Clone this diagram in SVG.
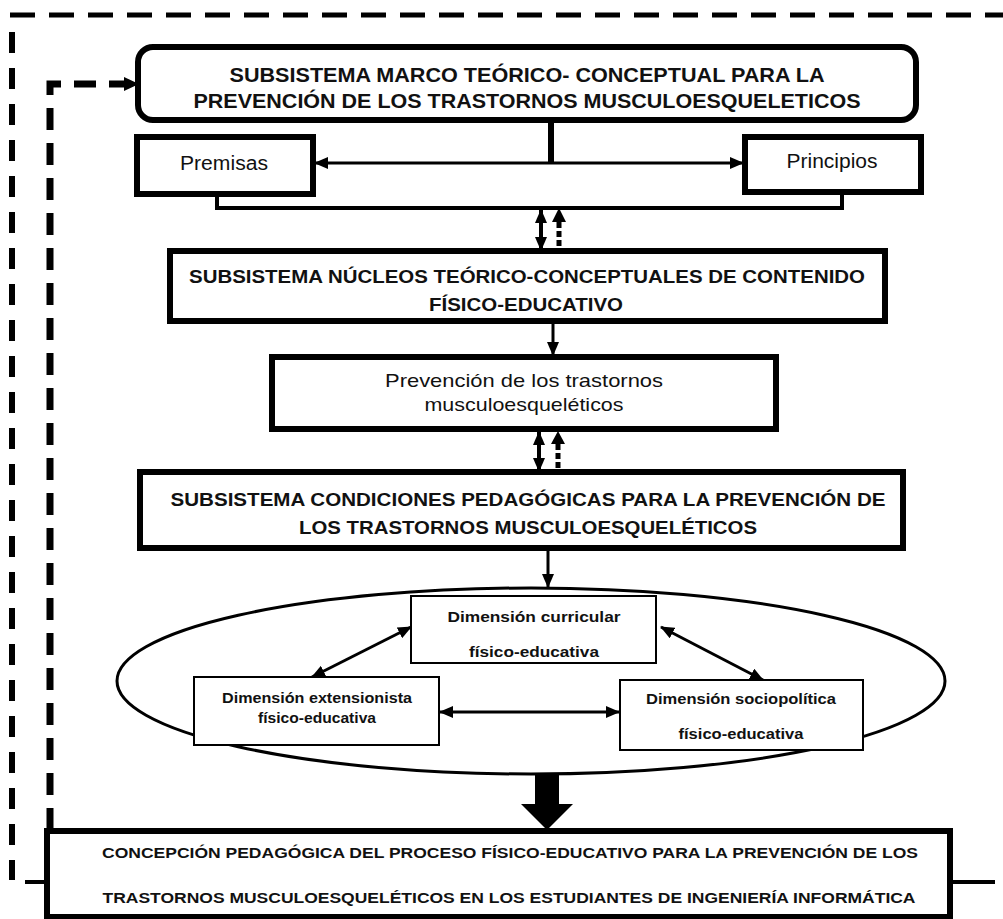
<svg xmlns="http://www.w3.org/2000/svg" width="1003" height="919" viewBox="0 0 1003 919">
<style>
.box{fill:#fff;stroke:#000;stroke-width:6}
.thin{fill:#fff;stroke:#000;stroke-width:2}
.t{font-family:"Liberation Sans",Arial,sans-serif;fill:#111;text-anchor:middle}
.b{font-weight:bold}
.ln{stroke:#000;fill:none}
</style>
<defs>
<marker id="ah" markerUnits="userSpaceOnUse" markerWidth="14" markerHeight="12" refX="13" refY="6" orient="auto-start-reverse"><path d="M0,0 L14,6 L0,12 z" fill="#000"/></marker>
</defs>
<rect width="1003" height="919" fill="#fff"/>
<g id="connectors">
<line class="ln" x1="10" y1="15" x2="1003" y2="15" stroke-width="5" stroke-dasharray="25 14"/>
<line class="ln" x1="12" y1="32" x2="12" y2="880" stroke-width="6" stroke-dasharray="21 15"/>
<line class="ln" x1="25" y1="882" x2="47" y2="882" stroke-width="4"/>
<line class="ln" x1="950" y1="882" x2="995" y2="882" stroke-width="4"/>
<path class="ln" d="M50,830 V84 H125" stroke-width="7" stroke-dasharray="22 13"/>
<polygon points="124,77 139,84 124,91" fill="#000"/>
<line class="ln" x1="551" y1="120" x2="551" y2="163" stroke-width="6"/>
<line class="ln" x1="315" y1="163" x2="743" y2="163" stroke-width="3" marker-start="url(#ah)" marker-end="url(#ah)"/>
<path class="ln" d="M217,195 V208 H842 V193" stroke-width="4"/>
<line class="ln" x1="541" y1="210" x2="541" y2="250" stroke-width="4" marker-start="url(#ah)" marker-end="url(#ah)"/>
<polygon points="552,222 559,208 566,222" fill="#000"/>
<line class="ln" x1="559" y1="222" x2="559" y2="250" stroke-width="5" stroke-dasharray="6 3"/>
<line class="ln" x1="553" y1="322" x2="553" y2="355" stroke-width="3" marker-end="url(#ah)"/>
<line class="ln" x1="539" y1="432" x2="539" y2="471" stroke-width="4" marker-start="url(#ah)" marker-end="url(#ah)"/>
<polygon points="551,444 558,431 565,444" fill="#000"/>
<line class="ln" x1="558" y1="444" x2="558" y2="471" stroke-width="5" stroke-dasharray="6 3"/>
<line class="ln" x1="548" y1="549" x2="548" y2="587" stroke-width="3" marker-end="url(#ah)"/>
<line class="ln" x1="411" y1="627" x2="312" y2="677" stroke-width="3" marker-start="url(#ah)" marker-end="url(#ah)"/>
<line class="ln" x1="661" y1="627" x2="763" y2="680" stroke-width="3" marker-start="url(#ah)" marker-end="url(#ah)"/>
<line class="ln" x1="440" y1="712" x2="619" y2="712" stroke-width="3" marker-start="url(#ah)" marker-end="url(#ah)"/>
<polygon points="535,773 559,773 559,804 573,804 547,830 521,804 535,804" fill="#000"/>
</g>
<g id="n-marco">
<rect x="138" y="47" width="778" height="73" rx="15" class="box" stroke-width="5"/>
<text class="t b" x="527" y="82" font-size="21" fill="#1a1a2e" textLength="595" lengthAdjust="spacingAndGlyphs">SUBSISTEMA MARCO TEÓRICO- CONCEPTUAL PARA LA</text>
<text class="t b" x="527" y="108" font-size="21" fill="#1a1a2e" textLength="667" lengthAdjust="spacingAndGlyphs">PREVENCIÓN DE LOS TRASTORNOS MUSCULOESQUELETICOS</text>
</g>
<g id="n-premisas">
<rect x="137" y="137" width="176" height="57" class="box"/>
<text class="t" x="224" y="170" font-size="20" fill="#1f1f3f" textLength="88" lengthAdjust="spacingAndGlyphs">Premisas</text>
</g>
<g id="n-principios">
<rect x="745" y="137" width="176" height="55" class="box"/>
<text class="t" x="832" y="168" font-size="20" fill="#1f1f3f" textLength="91" lengthAdjust="spacingAndGlyphs">Principios</text>
</g>
<g id="n-nucleos">
<rect x="170" y="251" width="715" height="70" class="box"/>
<text class="t b" x="527" y="283" font-size="19" textLength="676" lengthAdjust="spacingAndGlyphs">SUBSISTEMA NÚCLEOS TEÓRICO-CONCEPTUALES DE CONTENIDO</text>
<text class="t b" x="526" y="311" font-size="19" textLength="194" lengthAdjust="spacingAndGlyphs">FÍSICO-EDUCATIVO</text>
</g>
<g id="n-prevencion">
<rect x="272" y="357" width="504" height="72" class="box"/>
<text class="t" x="524" y="387" font-size="19" fill="#1f1f3f" textLength="278" lengthAdjust="spacingAndGlyphs">Prevención de los trastornos</text>
<text class="t" x="524" y="411" font-size="19" fill="#1f1f3f" textLength="199" lengthAdjust="spacingAndGlyphs">musculoesqueléticos</text>
</g>
<g id="n-condiciones">
<rect x="140" y="472" width="763" height="76" class="box"/>
<text class="t b" x="528" y="506" font-size="19" textLength="715" lengthAdjust="spacingAndGlyphs">SUBSISTEMA CONDICIONES PEDAGÓGICAS PARA LA PREVENCIÓN DE</text>
<text class="t b" x="528" y="534" font-size="19" textLength="458" lengthAdjust="spacingAndGlyphs">LOS TRASTORNOS MUSCULOESQUELÉTICOS</text>
</g>
<g id="n-dimensiones">
<ellipse cx="531" cy="681" rx="414" ry="93" fill="none" stroke="#000" stroke-width="3"/>
</g>
<g id="n-curricular">
<rect x="411" y="596" width="245" height="67" class="thin"/>
<text class="t b" x="534" y="622" font-size="15" textLength="173" lengthAdjust="spacingAndGlyphs">Dimensión curricular</text>
<text class="t b" x="534" y="657" font-size="15" textLength="130" lengthAdjust="spacingAndGlyphs">físico-educativa</text>
</g>
<g id="n-extensionista">
<rect x="194" y="677" width="245" height="68" class="thin"/>
<text class="t b" x="317" y="703" font-size="15" textLength="190" lengthAdjust="spacingAndGlyphs">Dimensión extensionista</text>
<text class="t b" x="317" y="723" font-size="15" textLength="118" lengthAdjust="spacingAndGlyphs">físico-educativa</text>
</g>
<g id="n-sociopolitica">
<rect x="620" y="680" width="243" height="70" class="thin"/>
<text class="t b" x="741" y="704" font-size="15" textLength="190" lengthAdjust="spacingAndGlyphs">Dimensión sociopolítica</text>
<text class="t b" x="741" y="739" font-size="15" textLength="125" lengthAdjust="spacingAndGlyphs">físico-educativa</text>
</g>
<g id="n-concepcion">
<rect x="47" y="831" width="903" height="86" class="box"/>
<text class="t b" x="510" y="858" font-size="14" textLength="816" lengthAdjust="spacingAndGlyphs">CONCEPCIÓN PEDAGÓGICA DEL PROCESO FÍSICO-EDUCATIVO PARA LA PREVENCIÓN DE LOS</text>
<text class="t b" x="509" y="903" font-size="14" textLength="813" lengthAdjust="spacingAndGlyphs">TRASTORNOS MUSCULOESQUELÉTICOS EN LOS ESTUDIANTES DE INGENIERÍA INFORMÁTICA</text>
</g>
</svg>
